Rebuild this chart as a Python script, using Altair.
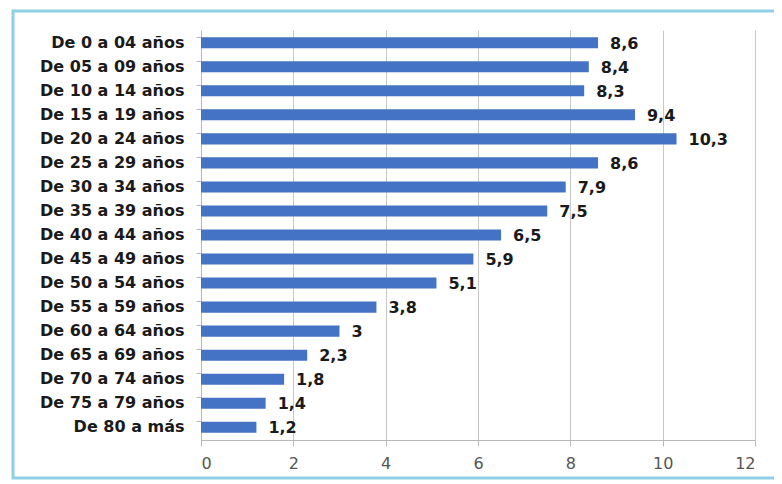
import altair as alt
import pandas as pd

categories = ["De 0 a 04 años", "De 05 a 09 años", "De 10 a 14 años", "De 15 a 19 años",
              "De 20 a 24 años", "De 25 a 29 años", "De 30 a 34 años", "De 35 a 39 años",
              "De 40 a 44 años", "De 45 a 49 años", "De 50 a 54 años", "De 55 a 59 años",
              "De 60 a 64 años", "De 65 a 69 años", "De 70 a 74 años", "De 75 a 79 años",
              "De 80 a más"]
values = [8.6, 8.4, 8.3, 9.4, 10.3, 8.6, 7.9, 7.5, 6.5, 5.9, 5.1, 3.8, 3, 2.3, 1.8, 1.4, 1.2]
labels = ["8,6", "8,4", "8,3", "9,4", "10,3", "8,6", "7,9", "7,5", "6,5", "5,9", "5,1",
          "3,8", "3", "2,3", "1,8", "1,4", "1,2"]
x_ticks = [0, 2, 4, 6, 8, 10, 12]

df = pd.DataFrame({"cat": categories, "val": values, "lab": labels})

FONT = "DejaVu Sans"

x_enc = alt.X("val:Q", scale=alt.Scale(domain=[0, 12], nice=False),
              axis=alt.Axis(values=x_ticks, title=None, grid=True, gridColor="#c8c8c8",
                            domain=True, domainColor="#b8b8b8", tickColor="#b8b8b8",
                            tickSize=6, labelFont=FONT, labelFontSize=16,
                            labelColor="#555555", labelPadding=9))
y_enc = alt.Y("cat:N", sort=categories,
              scale=alt.Scale(paddingInner=0.54, paddingOuter=0.3),
              axis=alt.Axis(title=None, domainColor="#b8b8b8", ticks=True,
                            bandPosition=0, tickColor="#b8b8b8", tickSize=5,
                            labelFont=FONT, labelFontWeight="bold", labelFontSize=16,
                            labelColor="#1a1a1a", labelPadding=12))

bars = alt.Chart(df).mark_bar(color="#4472c4").encode(x=x_enc, y=y_enc)

text = alt.Chart(df).mark_text(align="left", dx=12, dy=1, font=FONT, fontWeight="bold",
                               fontSize=16, color="#1a1a1a").encode(
    x="val:Q", y=alt.Y("cat:N", sort=categories), text="lab:N")

frame = alt.Chart(pd.DataFrame({"a": [0]})).mark_rect(
    fill=None, stroke="#8fd0e6", strokeWidth=3).encode(
    x=alt.value(-188), x2=alt.value(590), y=alt.value(-19), y2=alt.value(448))

chart = alt.layer(frame, bars, text).properties(
    width=554, height=410,
    autosize=alt.AutoSizeParams(type="none"),
    padding={"left": 193, "top": 22, "right": 19, "bottom": 44},
    background="white",
).configure_view(stroke=None)

chart.save("out.html", embed_options={"renderer": "svg", "actions": False})
